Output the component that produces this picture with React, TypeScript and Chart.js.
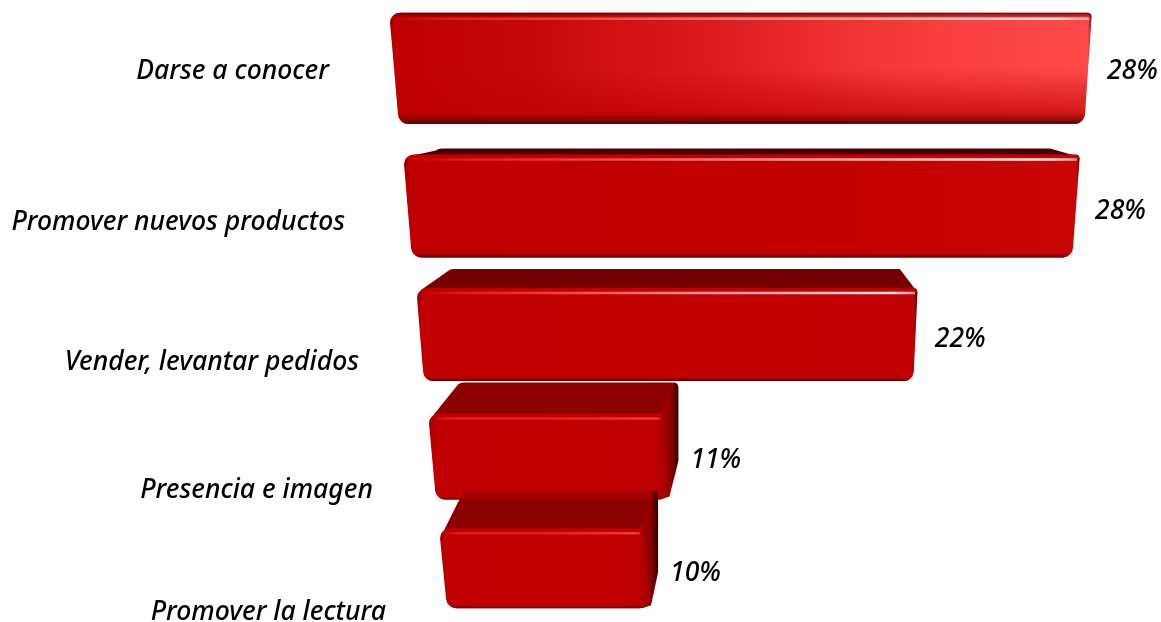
import React, { useEffect, useRef } from "react";
import { Chart, registerables } from "chart.js";

Chart.register(...registerables);

const categories = [
  "Darse a conocer",
  "Promover nuevos productos",
  "Vender, levantar pedidos",
  "Presencia e imagen",
  "Promover la lectura",
];
const shares = [28, 28, 22, 11, 10];
const valueLabels = ["28%", "28%", "22%", "11%", "10%"];

// Perspective of the scene, row by row (the original is a 3D bar chart).
const depthShift = [0, 14, 27, 39, 50];
const depthScale = [1, 0.963, 0.908, 0.85, 0.81];
const frontTopOffset = [-59, -37, -23, -17, -22];
const frontHeight = [111, 103, 93, 86, 80];
const topFaceDepth = [0, 6, 19, 31, 38];
const backInsetLeft = [0, 34, 33, 31, 25];
const backInsetRight = [0, 25, 13, -15, -15];
const leftSlant = [9, 8, 7, 7, 7];
const rightSlant = [7, 7, 4, -5, -7];
const bottomBevel = [11, 4, 4, 3, 3];
const topFaceColor = ["#5a0000", "#4a0000", "#750000", "#8c0000", "#8c0000"];
const labelRight = [329, 345, 359, 373, 386];
const labelBaselineOffset = [7, 39, 59, 67, 70];
const valueGap = [15, 15, 17, 27, 27];
const valueBaselineOffset = [7, 28, 36, 37, 31];

const scene = {
  id: "scene",
  afterDatasetsDraw(chart: any) {
    const { ctx } = chart;
    const bars = chart.getDatasetMeta(0).data;
    bars.forEach((bar: any, i: number) => {
      const zero = chart.scales.x.getPixelForValue(0);
      const end = chart.scales.x.getPixelForValue(shares[i]);
      const xl = zero + depthShift[i];
      const xr = xl + (end - zero) * depthScale[i];
      const yt = bar.y + frontTopOffset[i];
      const yb = yt + frontHeight[i];
      const blx = xl + leftSlant[i];
      const brx = xr - rightSlant[i];
      const backT = yt - topFaceDepth[i];
      const r = 10;
      const hasSide = backInsetRight[i] < 0;

      ctx.save();
      // top face
      if (topFaceDepth[i] > 0) {
        const bl = xl + backInsetLeft[i];
        const br = xr - backInsetRight[i];
        ctx.beginPath();
        ctx.moveTo(xl + 4, yt + 2);
        ctx.lineTo(bl - 2, backT + 2);
        ctx.quadraticCurveTo(bl, backT, bl + 4, backT);
        ctx.lineTo(br - 5, backT);
        if (hasSide) ctx.quadraticCurveTo(br, backT, br, backT + 5);
        ctx.lineTo(xr - 2, yt + 2);
        ctx.closePath();
        if (i === 4) {
          const g = ctx.createLinearGradient(0, backT, 0, yt);
          g.addColorStop(0, "#a80000");
          g.addColorStop(0.22, "#a20000");
          g.addColorStop(0.28, "#8c0000");
          g.addColorStop(1, "#8c0000");
          ctx.fillStyle = g;
        } else {
          ctx.fillStyle = topFaceColor[i];
        }
        ctx.fill();
      }

      // right side face, visible on the lower rows
      if (hasSide) {
        const sx = xr - backInsetRight[i];
        const grad = ctx.createLinearGradient(xr - 2, 0, sx, 0);
        grad.addColorStop(0, "#a80000");
        grad.addColorStop(0.55, "#8c0000");
        grad.addColorStop(1, "#3a0000");
        ctx.beginPath();
        ctx.moveTo(xr - 4, yt + 2);
        ctx.lineTo(sx - 5, backT + 1);
        ctx.quadraticCurveTo(sx, backT, sx, backT + 7);
        ctx.lineTo(sx, yt + (yb - yt) * 0.55);
        ctx.lineTo(brx + 1, yb - 3);
        ctx.lineTo(brx - 8, yb);
        ctx.closePath();
        ctx.fillStyle = grad;
        ctx.fill();
      }

      // front face
      ctx.beginPath();
      ctx.moveTo(xl + r, yt);
      ctx.lineTo(xr - 4, yt);
      ctx.arcTo(xr, yt, xr - 0.5, yt + 5, 4);
      ctx.lineTo(brx, yb - r);
      ctx.arcTo(brx - 1, yb, brx - r, yb, r);
      ctx.lineTo(blx + r, yb);
      ctx.arcTo(blx, yb, blx - 1, yb - r, r);
      ctx.lineTo(xl, yt + r);
      ctx.arcTo(xl, yt, xl + r, yt, r);
      ctx.closePath();
      ctx.clip();

      const fx = xl - 1;
      const fw = Math.max(xr, brx) - xl + 2;
      // base colour
      if (i === 0) {
        const h = ctx.createLinearGradient(xl, 0, xr, 0);
        h.addColorStop(0, "#bf0000");
        h.addColorStop(0.2, "#c40808");
        h.addColorStop(0.45, "#dc1c1c");
        h.addColorStop(0.75, "#f83c3c");
        h.addColorStop(1, "#ff4a4a");
        ctx.fillStyle = h;
        ctx.fillRect(fx, yt - 1, fw, yb - yt + 2);
        const v = ctx.createLinearGradient(0, yt, 0, yb);
        v.addColorStop(0, "rgba(190,0,0,0)");
        v.addColorStop(0.5, "rgba(190,0,0,0)");
        v.addColorStop(0.95, "rgba(190,0,0,0.75)");
        ctx.fillStyle = v;
        ctx.fillRect(fx, yt - 1, fw, yb - yt + 2);
      } else {
        const h = ctx.createLinearGradient(xl, 0, xr, 0);
        h.addColorStop(0, "#c00000");
        h.addColorStop(0.6, "#c20000");
        h.addColorStop(1, i === 1 ? "#c80606" : "#c00000");
        ctx.fillStyle = h;
        ctx.fillRect(fx, yt - 1, fw, yb - yt + 2);
      }

      // left bevel
      const lb = ctx.createLinearGradient(xl, 0, xl + 6, 0);
      lb.addColorStop(0, "rgba(40,0,0,0.85)");
      lb.addColorStop(0.4, "rgba(130,0,0,0.3)");
      lb.addColorStop(1, "rgba(150,0,0,0)");
      ctx.fillStyle = lb;
      ctx.beginPath();
      ctx.moveTo(xl, yt);
      ctx.lineTo(xl + 6, yt);
      ctx.lineTo(blx + 6, yb);
      ctx.lineTo(blx, yb);
      ctx.closePath();
      ctx.fill();

      // right bevel
      if (!hasSide) {
        const rb = ctx.createLinearGradient(xr - 4, 0, xr, 0);
        rb.addColorStop(0, "rgba(60,0,0,0)");
        rb.addColorStop(1, "rgba(60,0,0,0.8)");
        ctx.fillStyle = rb;
        ctx.beginPath();
        ctx.moveTo(xr - 4, yt);
        ctx.lineTo(xr, yt);
        ctx.lineTo(brx, yb);
        ctx.lineTo(brx - 4, yb);
        ctx.closePath();
        ctx.fill();
      } else {
        const rb = ctx.createLinearGradient(xr - 8, 0, Math.max(xr, brx), 0);
        rb.addColorStop(0, "rgba(160,0,0,0)");
        rb.addColorStop(1, "rgba(160,0,0,0.9)");
        ctx.fillStyle = rb;
        ctx.fillRect(xr - 8, yt, brx - xr + 9, yb - yt);
      }

      // bottom bevel
      const bw = bottomBevel[i];
      const bb = ctx.createLinearGradient(0, yb - bw, 0, yb);
      bb.addColorStop(0, "rgba(70,0,0,0)");
      bb.addColorStop(0.7, "rgba(80,0,0,0.5)");
      bb.addColorStop(1, "rgba(50,0,0,0.95)");
      ctx.fillStyle = bb;
      ctx.fillRect(fx, yb - bw, fw, bw + 1);

      // top edge shine
      const shineY = yt + (i === 0 ? 6 : 5);
      const edge = ctx.createLinearGradient(0, yt, 0, shineY);
      edge.addColorStop(0, i === 0 ? "rgba(80,0,0,0.9)" : "rgba(190,0,0,0.4)");
      edge.addColorStop(1, "rgba(190,0,0,0)");
      ctx.fillStyle = edge;
      ctx.fillRect(fx, yt - 1, fw, shineY - yt + 1);
      const strong = i < 3;
      const sweep = ctx.createLinearGradient(xl, 0, xr, 0);
      sweep.addColorStop(0, "rgba(255,60,60,0)");
      sweep.addColorStop(0.1, "rgba(255,60,60,0.5)");
      sweep.addColorStop(0.5, strong ? "rgba(255,150,150,0.9)" : "rgba(255,60,60,0.5)");
      sweep.addColorStop(0.95, strong ? "rgba(255,235,235,1)" : "rgba(255,70,70,0.8)");
      sweep.addColorStop(1, strong ? "rgba(255,200,200,0.7)" : "rgba(255,70,70,0.5)");
      ctx.strokeStyle = sweep;
      ctx.lineWidth = 2.5;
      ctx.beginPath();
      ctx.moveTo(xl + 8, shineY);
      ctx.lineTo(xr - 3, shineY);
      ctx.stroke();
      ctx.restore();

      // texts
      ctx.save();
      ctx.fillStyle = "#000";
      ctx.font = 'italic 500 26.5px "Noto Sans"';
      ctx.textBaseline = "alphabetic";
      ctx.textAlign = "right";
      ctx.fillText(categories[i], labelRight[i], bar.y + labelBaselineOffset[i]);
      ctx.textAlign = "left";
      ctx.fillText(valueLabels[i], xr + valueGap[i], bar.y + valueBaselineOffset[i]);
      ctx.restore();
    });
  },
};

export default function App() {
  const ref = useRef<HTMLCanvasElement>(null);
  useEffect(() => {
    const chart = new Chart(ref.current!, {
      type: "bar",
      data: {
        labels: categories,
        datasets: [
          {
            label: "Objetivos",
            data: shares,
            backgroundColor: "rgba(0,0,0,0)",
            borderWidth: 0,
          },
        ],
      },
      options: {
        indexAxis: "y",
        animation: false,
        responsive: false,
        layout: { padding: { left: 390, right: 69, top: 12, bottom: 12 } },
        plugins: { legend: { display: false }, tooltip: { enabled: false } },
        scales: {
          x: { display: false, min: 0, max: 28 },
          y: { display: false },
        },
      },
      plugins: [scene],
    });
    return () => chart.destroy();
  }, []);
  return (
    <div style={{ position: "absolute", left: 0, top: 0, width: 1161, height: 622, background: "#fff" }}>
      <canvas ref={ref} width={1161} height={622} style={{ display: "block" }} />
    </div>
  );
}
